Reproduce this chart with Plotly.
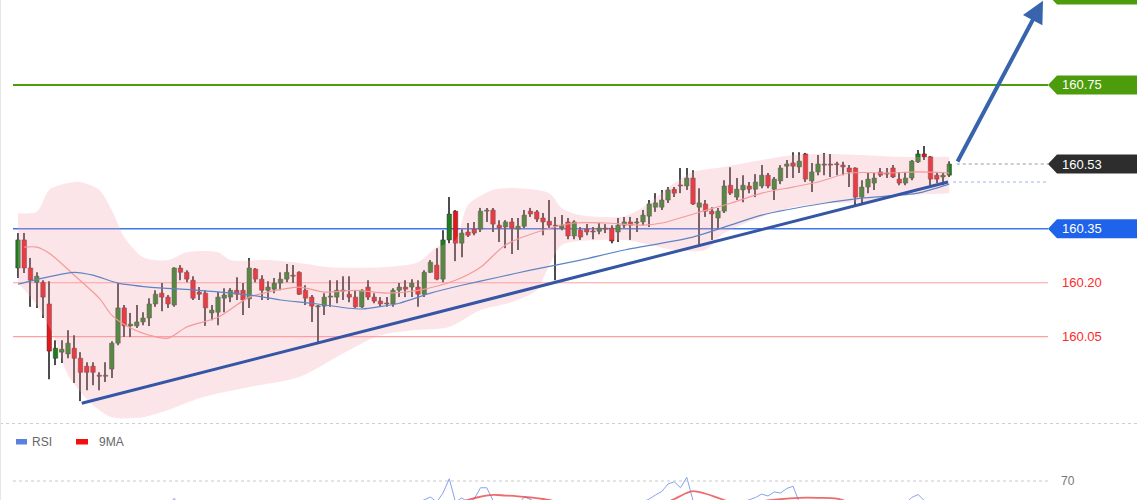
import plotly.graph_objects as go

# ---------------- data ----------------
opens = [
160.241, 160.319, 160.241, 160.201, 160.201, 160.141, 159.990, 160.007, 160.002, 160.018,
159.990, 159.968, 159.968, 159.943, 159.940, 159.960, 160.032, 160.130, 160.080, 160.080,
160.091, 160.102, 160.141, 160.171, 160.160, 160.138, 160.241, 160.229, 160.207, 160.174,
160.171, 160.116, 160.118, 160.157, 160.160, 160.179, 160.179, 160.155, 160.238, 160.210,
160.179, 160.182, 160.199, 160.210, 160.221, 160.229, 160.179, 160.160, 160.133, 160.135,
160.160, 160.160, 160.179, 160.168, 160.160, 160.133, 160.188, 160.160, 160.149, 160.143,
160.141, 160.179, 160.188, 160.188, 160.188, 160.168, 160.229, 160.249, 160.210, 160.319,
160.399, 160.310, 160.341, 160.349, 160.349, 160.399, 160.402, 160.360, 160.355, 160.369,
160.349, 160.357, 160.399, 160.397, 160.380, 160.371, 160.360, 160.352, 160.369, 160.330,
160.346, 160.349, 160.343, 160.343, 160.352, 160.352, 160.341, 160.360, 160.369, 160.366,
160.369, 160.385, 160.410, 160.410, 160.430, 160.460, 160.471, 160.469, 160.491, 160.410,
160.419, 160.399, 160.380, 160.399, 160.471, 160.438, 160.458, 160.469, 160.460, 160.469,
160.499, 160.460, 160.483, 160.524, 160.533, 160.522, 160.558, 160.483, 160.508, 160.527,
160.530, 160.530, 160.527, 160.519, 160.519, 160.438, 160.466, 160.477, 160.508, 160.505,
160.519, 160.488, 160.477, 160.491, 160.536, 160.558, 160.550, 160.499, 160.494, 160.499,
]
highs = [
160.338, 160.338, 160.269, 160.229, 160.207, 160.204, 160.040, 160.040, 160.068, 160.054,
160.007, 159.979, 159.979, 159.951, 159.979, 160.037, 160.199, 160.138, 160.116, 160.138,
160.118, 160.157, 160.179, 160.199, 160.166, 160.243, 160.249, 160.235, 160.218, 160.188,
160.179, 160.138, 160.174, 160.185, 160.185, 160.215, 160.199, 160.269, 160.241, 160.221,
160.204, 160.213, 160.229, 160.252, 160.249, 160.232, 160.193, 160.166, 160.138, 160.171,
160.207, 160.207, 160.218, 160.218, 160.179, 160.182, 160.207, 160.171, 160.160, 160.160,
160.185, 160.199, 160.207, 160.210, 160.207, 160.235, 160.263, 160.296, 160.346, 160.438,
160.402, 160.349, 160.366, 160.369, 160.408, 160.408, 160.408, 160.374, 160.374, 160.380,
160.380, 160.402, 160.408, 160.402, 160.394, 160.430, 160.383, 160.388, 160.380, 160.374,
160.355, 160.363, 160.355, 160.366, 160.363, 160.360, 160.380, 160.383, 160.383, 160.380,
160.402, 160.430, 160.449, 160.458, 160.466, 160.466, 160.519, 160.519, 160.513, 160.463,
160.430, 160.410, 160.408, 160.485, 160.521, 160.491, 160.499, 160.480, 160.502, 160.527,
160.505, 160.494, 160.527, 160.541, 160.563, 160.563, 160.561, 160.533, 160.555, 160.561,
160.558, 160.536, 160.536, 160.527, 160.521, 160.485, 160.505, 160.505, 160.519, 160.519,
160.527, 160.508, 160.508, 160.541, 160.569, 160.580, 160.552, 160.508, 160.508, 160.538,
]
lows = [
160.213, 160.227, 160.133, 160.130, 160.102, 159.932, 159.971, 159.977, 159.990, 159.921,
159.871, 159.901, 159.915, 159.901, 159.924, 159.935, 160.026, 160.049, 160.049, 160.074,
160.082, 160.080, 160.133, 160.121, 160.130, 160.133, 160.207, 160.201, 160.152, 160.152,
160.080, 160.096, 160.082, 160.118, 160.146, 160.152, 160.110, 160.130, 160.201, 160.152,
160.152, 160.171, 160.179, 160.201, 160.199, 160.166, 160.138, 160.091, 160.032, 160.110,
160.133, 160.143, 160.152, 160.146, 160.130, 160.130, 160.152, 160.143, 160.133, 160.133,
160.133, 160.160, 160.160, 160.160, 160.133, 160.160, 160.227, 160.207, 160.201, 160.310,
160.260, 160.271, 160.327, 160.332, 160.341, 160.369, 160.341, 160.313, 160.296, 160.280,
160.291, 160.352, 160.383, 160.369, 160.332, 160.352, 160.207, 160.346, 160.321, 160.321,
160.319, 160.332, 160.321, 160.335, 160.338, 160.310, 160.313, 160.352, 160.319, 160.341,
160.360, 160.355, 160.397, 160.402, 160.422, 160.438, 160.449, 160.458, 160.416, 160.305,
160.383, 160.319, 160.349, 160.394, 160.444, 160.430, 160.424, 160.449, 160.438, 160.463,
160.463, 160.430, 160.474, 160.491, 160.491, 160.505, 160.480, 160.452, 160.499, 160.499,
160.494, 160.499, 160.499, 160.466, 160.416, 160.416, 160.449, 160.458, 160.494, 160.491,
160.491, 160.471, 160.471, 160.485, 160.533, 160.541, 160.471, 160.477, 160.471, 160.494,
]
closes = [
160.319, 160.241, 160.207, 160.218, 160.160, 160.010, 160.018, 160.015, 160.032, 159.990,
159.951, 159.951, 159.951, 159.940, 159.943, 160.032, 160.130, 160.080, 160.085, 160.091,
160.102, 160.141, 160.168, 160.160, 160.141, 160.241, 160.229, 160.210, 160.157, 160.168,
160.130, 160.124, 160.160, 160.166, 160.179, 160.168, 160.152, 160.241, 160.210, 160.179,
160.188, 160.199, 160.210, 160.229, 160.218, 160.168, 160.157, 160.135, 160.135, 160.160,
160.163, 160.179, 160.177, 160.160, 160.133, 160.179, 160.160, 160.149, 160.141, 160.141,
160.179, 160.188, 160.182, 160.199, 160.168, 160.229, 160.257, 160.210, 160.319, 160.391,
160.310, 160.338, 160.332, 160.338, 160.399, 160.402, 160.363, 160.352, 160.369, 160.352,
160.357, 160.388, 160.391, 160.377, 160.369, 160.360, 160.357, 160.360, 160.330, 160.369,
160.327, 160.341, 160.341, 160.352, 160.349, 160.316, 160.360, 160.369, 160.360, 160.369,
160.388, 160.419, 160.422, 160.430, 160.458, 160.449, 160.469, 160.491, 160.419, 160.422,
160.399, 160.391, 160.399, 160.469, 160.449, 160.460, 160.471, 160.460, 160.480, 160.499,
160.469, 160.488, 160.519, 160.530, 160.524, 160.538, 160.488, 160.508, 160.530, 160.530,
160.527, 160.528, 160.522, 160.508, 160.438, 160.466, 160.488, 160.491, 160.499, 160.502,
160.494, 160.477, 160.491, 160.538, 160.558, 160.550, 160.488, 160.488, 160.499, 160.530,
]
bars = list(range(len(closes)))

# Bollinger band edges / moving averages
upper_idx = [0, 3, 5, 8, 10, 13, 15, 17, 20, 24, 27, 32, 34, 40, 45, 50, 58, 64, 67, 70,
             72, 76, 80, 85, 87, 90, 97, 100, 105, 108, 113, 119, 124, 129, 135, 141, 149]
upper_val = [160.394, 160.397, 160.458, 160.477, 160.480, 160.458, 160.402, 160.327, 160.271, 160.263,
             160.285, 160.285, 160.263, 160.263, 160.255, 160.243, 160.243, 160.257, 160.299, 160.319,
             160.416, 160.458, 160.463, 160.449, 160.408, 160.388, 160.385, 160.410, 160.477, 160.508,
             160.522, 160.541, 160.555, 160.558, 160.555, 160.550, 160.550]
lower_idx = [0, 3, 6, 8, 12, 15, 20, 24, 29, 37, 45, 53, 58, 63, 69, 74, 79, 83, 85, 87,
             90, 97, 100, 105, 110, 113, 119, 124, 129, 135, 141, 149]
lower_val = [160.199, 160.138, 160.040, 159.943, 159.860, 159.826, 159.826, 159.846, 159.879, 159.910,
             159.938, 160.013, 160.054, 160.068, 160.077, 160.124, 160.146, 160.179, 160.249, 160.305,
             160.316, 160.319, 160.310, 160.291, 160.291, 160.338, 160.383, 160.410, 160.421, 160.424,
             160.441, 160.449]
mid_idx = [1, 3, 5, 9, 13, 15, 18, 21, 24, 27, 32, 37, 40, 45, 49, 54, 59, 64, 70, 74,
           78, 84, 89, 94, 100, 103, 109, 114, 119, 124, 128, 133, 139, 144, 149]
mid_val = [160.299, 160.299, 160.282, 160.221, 160.157, 160.110, 160.074, 160.054, 160.046, 160.077,
           160.104, 160.160, 160.174, 160.188, 160.174, 160.179, 160.171, 160.179, 160.207, 160.243,
           160.305, 160.346, 160.366, 160.366, 160.360, 160.366, 160.396, 160.421, 160.449, 160.466,
           160.480, 160.505, 160.505, 160.508, 160.505]
slow_idx = [0, 4, 9, 12, 16, 21, 29, 37, 42, 47, 53, 55, 61, 66, 71, 77, 82, 90, 97, 108,
            119, 129, 135, 144, 149]
slow_val = [160.196, 160.213, 160.229, 160.221, 160.199, 160.188, 160.179, 160.166, 160.152, 160.143,
            160.129, 160.127, 160.143, 160.171, 160.193, 160.216, 160.235, 160.263, 160.291, 160.327,
            160.388, 160.421, 160.435, 160.449, 160.474]

# trend line and projected arrow (bar index, price)
trend_x = [10.2, 148.8]
trend_y = [159.865, 160.480]
arrow_from = (150.2, 160.533)
arrow_to = (164.0, 160.984)

# horizontal levels
level_target = 160.75
level_top = 161.00
level_last = 160.53
level_pivot = 160.35
level_sup = [160.20, 160.05]
level_trend_end = 160.48

# RSI panel (only the top of it is visible)
rsi_idx = [0, 10, 20, 24, 25, 26, 40, 62, 66, 67, 68, 69, 70, 71, 72, 73, 74, 75, 76, 78,
           80, 81, 84, 90, 100, 101, 102, 103, 104, 105, 106, 107, 108, 109, 112, 116, 118, 119, 120, 121,
           122, 123, 124, 125, 126, 130, 140, 142, 143, 144, 145, 146, 149]
rsi_val = [50, 35, 48, 53, 58.5, 52, 50, 52, 59.3, 56, 62, 71.5, 56, 58.7, 56, 58, 65.5, 65.5, 57, 55,
           54, 59.5, 54, 45, 56, 58, 60.7, 63, 68, 69.5, 65.5, 72.5, 57, 52, 50, 56, 59, 61.3, 60, 62.7,
           62, 65, 66.5, 56, 48, 52, 52, 55, 59, 61, 57, 48, 54]
ma9_idx = [0, 30, 60, 66, 70, 72, 74, 76, 78, 80, 82, 84, 88, 96, 102, 104, 105, 107, 108, 110,
           112, 114, 118, 120, 123, 125, 128, 131, 133, 140, 149]
ma9_val = [45, 45, 50, 52, 55, 57.5, 59.5, 60.7, 60.3, 59.8, 59, 58, 55, 53, 54, 56, 58, 62, 63.3, 61.5,
           58.8, 56, 56, 57, 58.2, 58.8, 58.8, 58.3, 56, 54, 54]
rsi_level = 70

# ---------------- figure ----------------
W, H = 1140, 500
X_RANGE = [-2.88, 179.52]
Y_RANGE = [159.596, 160.986]
FONT = "Liberation Sans, Arial, sans-serif"
UP, DOWN, WICK = "#1e7e1e", "#e8151b", "#4d4d4d"

def px_x(p):
    return p / W

def px_y(p):
    return 1 - p / H

fig = go.Figure()

# Bollinger band
fig.add_trace(go.Scatter(x=lower_idx, y=lower_val, mode="lines",
                         line=dict(width=0, shape="spline", smoothing=0.8),
                         hoverinfo="skip", showlegend=False))
fig.add_trace(go.Scatter(x=upper_idx, y=upper_val, mode="lines", fill="tonexty",
                         fillcolor="rgba(246,160,172,0.28)",
                         line=dict(width=0, shape="spline", smoothing=0.8),
                         hoverinfo="skip", showlegend=False))
fig.add_trace(go.Scatter(x=mid_idx, y=mid_val, mode="lines",
                         line=dict(color="#f39a9a", width=1.2, shape="spline", smoothing=0.8),
                         showlegend=False))
fig.add_trace(go.Scatter(x=slow_idx, y=slow_val, mode="lines",
                         line=dict(color="#5f84c4", width=1.2, shape="spline", smoothing=0.6),
                         showlegend=False))

# candles: wicks + bodies as bars
wick_len = [h - l for h, l in zip(highs, lows)]
body_base = [min(o, c) for o, c in zip(opens, closes)]
body_len = [max(abs(c - o), 0.0028) for o, c in zip(opens, closes)]
body_col = [UP if c >= o else DOWN for o, c in zip(opens, closes)]

fig.add_trace(go.Bar(x=bars, y=wick_len, base=lows, width=0.17,
                     marker=dict(color=WICK, line=dict(width=0)), showlegend=False))
fig.add_trace(go.Bar(x=bars, y=body_len, base=body_base, width=0.72,
                     marker=dict(color=body_col, line=dict(color="#3a3a3a", width=0.5)),
                     showlegend=False))

fig.add_trace(go.Scatter(x=trend_x, y=trend_y, mode="lines",
                         line=dict(color="#3556a5", width=3), showlegend=False))

# RSI panel
fig.add_trace(go.Scatter(x=rsi_idx, y=rsi_val, mode="lines", yaxis="y2",
                         line=dict(color="#86a2ee", width=1), showlegend=False))
fig.add_trace(go.Scatter(x=ma9_idx, y=ma9_val, mode="lines", yaxis="y2",
                         line=dict(color="rgba(232,70,70,0.8)", width=1.8, shape="spline"),
                         showlegend=False))

shapes = []
L0, L1 = -0.8, 164.8

def hline(y, color, width, dash="solid", x0=L0, x1=L1, yref="y", layer="above"):
    shapes.append(dict(type="line", xref="x", yref=yref, x0=x0, x1=x1, y0=y, y1=y,
                       line=dict(color=color, width=width, dash=dash), layer=layer))

hline(level_target, "#4c9c0c", 2)
hline(level_pivot, "#3f76e8", 1.5, layer="below")
for lv in level_sup:
    hline(lv, "#ff9f9f", 1.2, layer="below")
hline(level_last, "#9a9a9a", 1, dash="dot", x0=150.2)
hline(level_trend_end, "#9db6e8", 1, dash="dot", x0=149.6)
hline(rsi_level, "#c8c8c8", 1, dash="dot", yref="y2")

def label_box(price, color):
    shapes.append(dict(type="path", xref="paper", yref="y",
                       xsizemode="pixel", xanchor=0, ysizemode="pixel", yanchor=price,
                       path="M1048,0 L1057,9.5 L1137,9.5 L1137,-9.5 L1057,-9.5 Z",
                       fillcolor=color, line=dict(width=0), layer="above"))

label_box(level_top, "#4c9c0c")
label_box(level_target, "#4c9c0c")
label_box(level_last, "#2d2d2d")
label_box(level_pivot, "#1e63e9")

# panel separator, left border, RSI legend swatches
shapes.append(dict(type="line", xref="paper", yref="paper", x0=0, x1=1, y0=px_y(423.5), y1=px_y(423.5),
                   line=dict(color="#cfcfcf", width=1, dash="dot")))
shapes.append(dict(type="line", xref="paper", yref="paper", x0=px_x(0.5), x1=px_x(0.5), y0=0, y1=1,
                   line=dict(color="#e6e6e6", width=1)))
shapes.append(dict(type="rect", xref="paper", yref="paper", x0=px_x(16), x1=px_x(27),
                   y0=px_y(444.5), y1=px_y(439), fillcolor="#5b80e0", line=dict(width=0)))
shapes.append(dict(type="rect", xref="paper", yref="paper", x0=px_x(76), x1=px_x(88),
                   y0=px_y(444.5), y1=px_y(439), fillcolor="#f01010", line=dict(width=0)))

annotations = []
for price, txt, col in [(level_target, "160.75", "white"), (level_last, "160.53", "white"),
                        (level_pivot, "160.35", "white"), (level_sup[0], "160.20", "#ff2a2a"),
                        (level_sup[1], "160.05", "#ff2a2a")]:
    annotations.append(dict(x=px_x(1060), xref="paper", xanchor="left", y=price, yref="y",
                            yanchor="middle", text=txt, showarrow=False,
                            font=dict(family=FONT, size=13, color=col)))
annotations.append(dict(x=px_x(1059), xref="paper", xanchor="left", y=rsi_level, yref="y2",
                        yanchor="middle", text="70", showarrow=False,
                        font=dict(family=FONT, size=12, color="#777777")))
annotations.append(dict(x=px_x(30), xref="paper", xanchor="left", y=px_y(442), yref="paper",
                        yanchor="middle", text="RSI", showarrow=False,
                        font=dict(family=FONT, size=12, color="#666666")))
annotations.append(dict(x=px_x(97), xref="paper", xanchor="left", y=px_y(442), yref="paper",
                        yanchor="middle", text="9MA", showarrow=False,
                        font=dict(family=FONT, size=12, color="#666666")))
annotations.append(dict(x=arrow_to[0], y=arrow_to[1], xref="x", yref="y",
                        ax=arrow_from[0], ay=arrow_from[1], axref="x", ayref="y",
                        text="", showarrow=True, arrowhead=2, arrowsize=1.1,
                        arrowwidth=4, arrowcolor="#3864ad", standoff=0, startstandoff=0))

fig.update_layout(
    width=W, height=H, autosize=False,
    margin=dict(l=0, r=0, t=0, b=0),
    paper_bgcolor="white", plot_bgcolor="rgba(0,0,0,0)",
    showlegend=False, barmode="overlay",
    xaxis=dict(range=X_RANGE, visible=False, fixedrange=True),
    yaxis=dict(range=Y_RANGE, visible=False, domain=[0, 1], fixedrange=True),
    yaxis2=dict(range=[57.33, 110.67], visible=False, domain=[0, 0.16], anchor="x", fixedrange=True),
    shapes=shapes, annotations=annotations,
)

fig.write_html("out.html")
